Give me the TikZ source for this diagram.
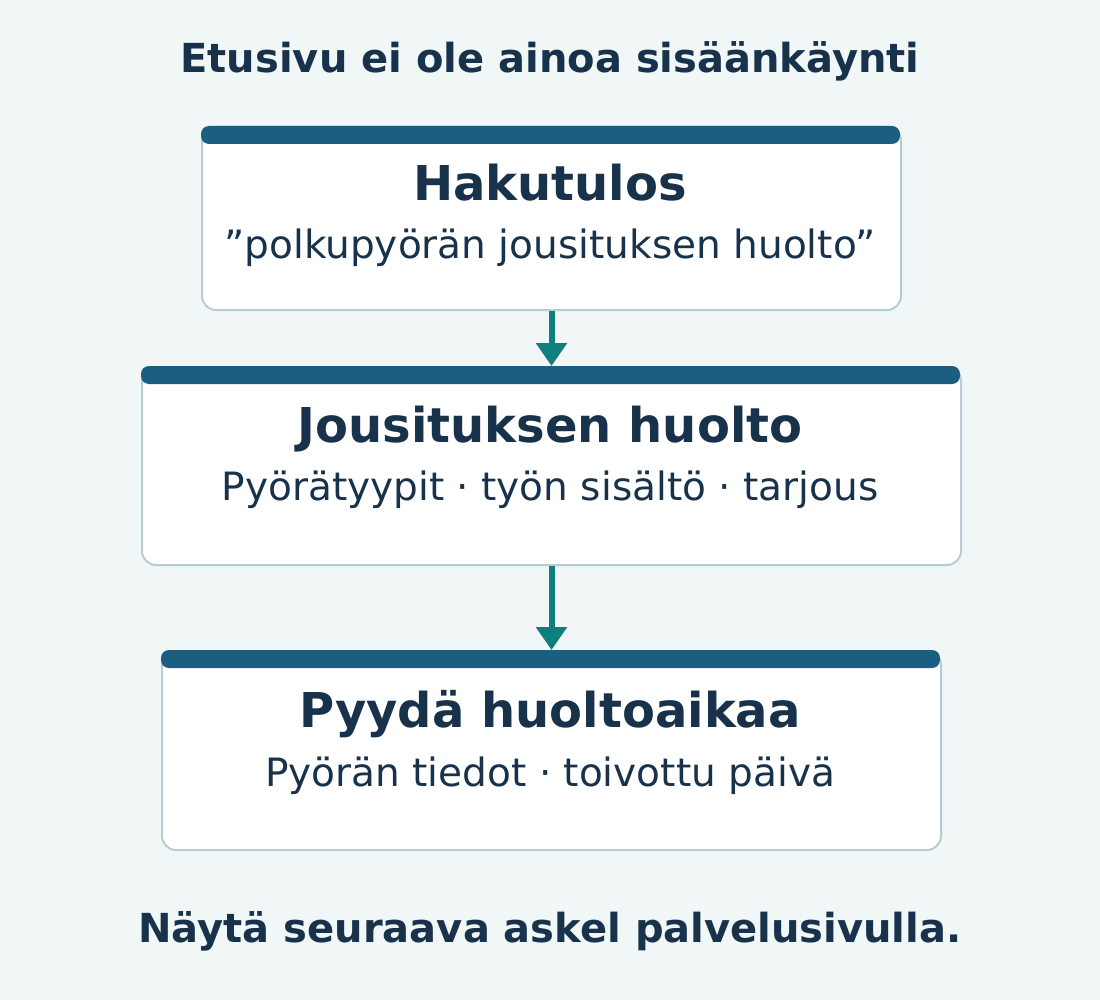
\documentclass[tikz,border=0pt]{standalone}
\usepackage{fontspec}
\setmainfont{DejaVu Sans}
\usetikzlibrary{arrows.meta}
\definecolor{bg}{HTML}{F1F6F7}
\definecolor{ink}{HTML}{17324A}
\definecolor{barblue}{HTML}{1B5E82}
\definecolor{edgegrey}{HTML}{B7CCD3}
\definecolor{tealarrow}{HTML}{0E7F7D}
\tikzset{
  card/.style={draw=edgegrey, line width=2pt, fill=white, rounded corners=14pt,
    inner sep=0pt, anchor=north west},
  topbar/.style={fill=barblue, rounded corners=8pt},
  cardtitle/.style={text=ink, font=\fontsize{48}{54}\selectfont\bfseries, inner sep=0pt, anchor=base},
  cardsub/.style={text=ink, font=\fontsize{39}{45}\selectfont, inner sep=0pt, anchor=base},
  headline/.style={text=ink, font=\fontsize{40}{46}\selectfont\bfseries, inner sep=0pt, anchor=base},
  flow/.style={draw=tealarrow, line width=6pt, -{Triangle[length=23pt,width=30pt]}},
}
\begin{document}
\begin{tikzpicture}[x=1pt,y=-1pt]
\fill[bg] (0,0) rectangle (1100,1000);
\useasboundingbox (0,0) rectangle (1100,1000);

\node[headline] (title) at (550,73) {Etusivu ei ole ainoa sisäänkäynti};

\node[card, minimum width=699pt, minimum height=183pt] (c1) at (201,126) {};
\node[card, minimum width=819pt, minimum height=198pt] (c2) at (141,366) {};
\node[card, minimum width=779pt, minimum height=199pt] (c3) at (161,650) {};

\draw[flow] (c1.south) -- (c2.north);
\draw[flow] (c2.south) -- (c3.north);

\fill[topbar] (c1.north west) rectangle ++(699,18);
\fill[topbar] (c2.north west) rectangle ++(819,18);
\fill[topbar] (c3.north west) rectangle ++(779,18);

\node[cardtitle] (t1) at (550,201) {Hakutulos};
\node[cardsub] (s1) at (550,259) {”polkupyörän jousituksen huolto”};
\node[cardtitle] (t2) at (550,442) {Jousituksen huolto};
\node[cardsub] (s2) at (550,500) {Pyörätyypit · työn sisältö · tarjous};
\node[cardtitle] (t3) at (550,727) {Pyydä huoltoaikaa};
\node[cardsub] (s3) at (550,786) {Pyörän tiedot · toivottu päivä};

\node[headline] (foot) at (550,942) {Näytä seuraava askel palvelusivulla.};
\end{tikzpicture}
\end{document}
